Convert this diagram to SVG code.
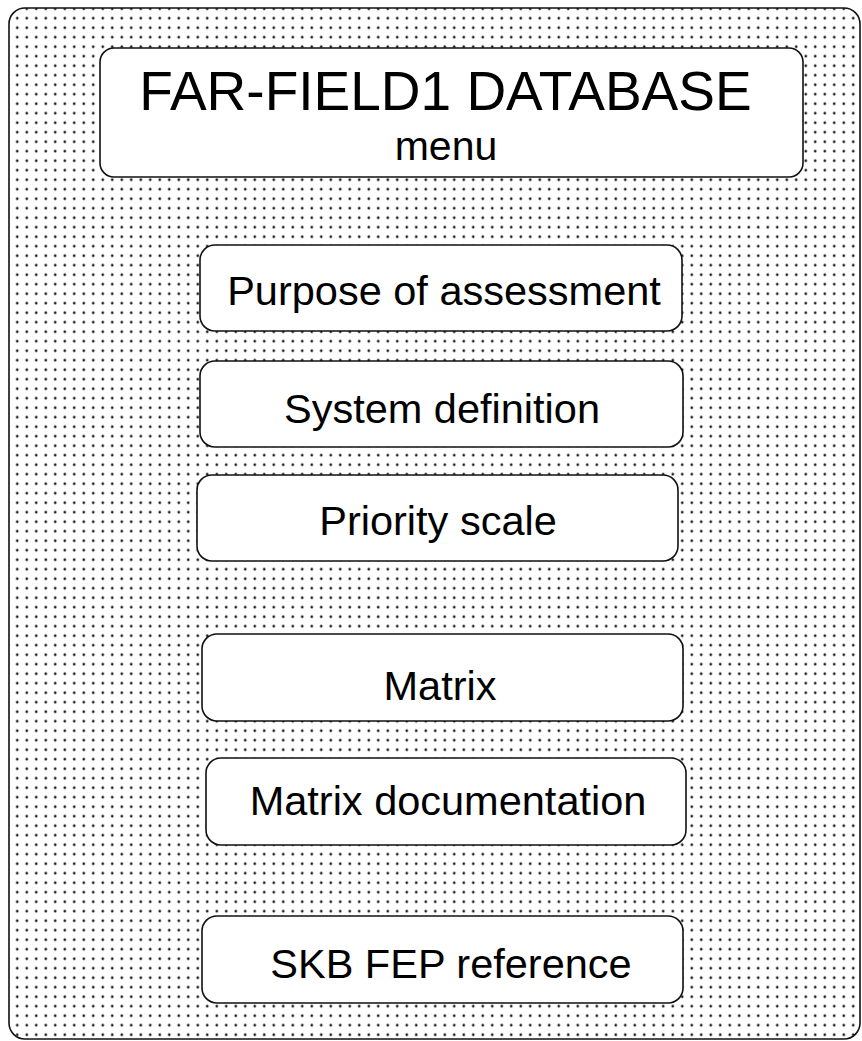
<svg xmlns="http://www.w3.org/2000/svg" width="862" height="1041" viewBox="0 0 862 1041">
  <defs>
    <!-- stipple screen used as the panel background -->
    <pattern id="stipple" x="3" y="4" width="9.5" height="9.5" patternUnits="userSpaceOnUse">
      <circle cx="4.75" cy="4.75" r="1.35" fill="#1a1a1a"/>
    </pattern>
    <style>
      .panel { fill: url(#stipple); stroke: #111; stroke-width: 1.6; }
      .btn { fill: #fff; stroke: #111; stroke-width: 1.6; }
      .lbl { font-family: "Liberation Sans", Arial, sans-serif; fill: #000; text-anchor: middle; }
      .item { font-size: 41.5px; }
    </style>
  </defs>

  <rect width="862" height="1041" fill="#fff"/>

  <!-- outer panel -->
  <g id="panel">
    <rect class="panel" x="9" y="8" width="851" height="1031" rx="16" ry="16"/>
  </g>

  <!-- title block -->
  <g id="title">
    <rect class="btn" x="100" y="48" width="703" height="129" rx="14" ry="14"/>
    <text class="lbl" x="445.5" y="110" font-size="55">FAR-FIELD1 DATABASE</text>
    <text class="lbl" x="446" y="160" font-size="41">menu</text>
  </g>

  <!-- menu entries -->
  <g id="purpose">
    <rect class="btn" x="200" y="245" width="482" height="86" rx="15" ry="15"/>
    <text class="lbl item" x="444" y="305">Purpose of assessment</text>
  </g>

  <g id="system-definition">
    <rect class="btn" x="200" y="361" width="483" height="86" rx="15" ry="15"/>
    <text class="lbl item" x="442" y="423">System definition</text>
  </g>

  <g id="priority-scale">
    <rect class="btn" x="197" y="475" width="481" height="86" rx="15" ry="15"/>
    <text class="lbl item" x="438" y="535">Priority scale</text>
  </g>

  <g id="matrix">
    <rect class="btn" x="202" y="634" width="481" height="87" rx="15" ry="15"/>
    <text class="lbl item" x="440" y="700">Matrix</text>
  </g>

  <g id="matrix-documentation">
    <rect class="btn" x="206" y="758" width="480" height="87" rx="15" ry="15"/>
    <text class="lbl item" x="448" y="815">Matrix documentation</text>
  </g>

  <g id="skb-fep-reference">
    <rect class="btn" x="202" y="916" width="481" height="87" rx="15" ry="15"/>
    <text class="lbl item" x="451" y="978">SKB FEP reference</text>
  </g>

  <!-- no connectors in this menu -->
  <g id="connectors"/>
</svg>
